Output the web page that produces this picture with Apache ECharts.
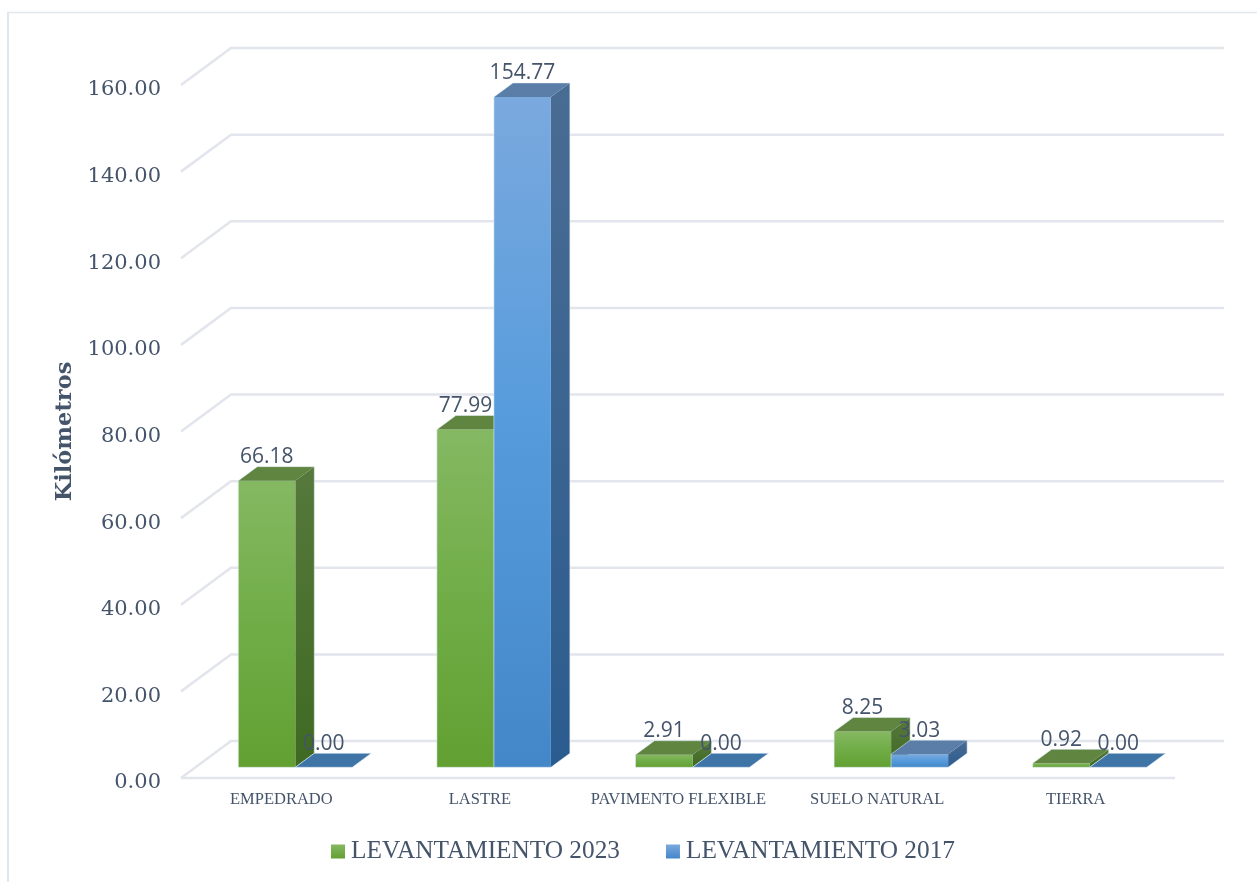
<!DOCTYPE html>
<html>
<head>
<meta charset="utf-8">
<style>html,body{margin:0;padding:0;background:#fff}#c{width:1257px;height:882px}</style>
<script src="https://cdn.jsdelivr.net/npm/echarts@6/dist/echarts.min.js"></script>
</head>
<body>
<div id="c"></div>
<script>
const categories = ['EMPEDRADO','LASTRE','PAVIMENTO FLEXIBLE','SUELO NATURAL','TIERRA'];
const levantamiento2023 = [66.18,77.99,2.91,8.25,0.92];
const levantamiento2017 = [0,154.77,0,3.03,0];
const yTicks = [0,20,40,60,80,100,120,140,160];

const TEXT = '#44546a', GRID = '#e2e5ec';
const WALL = [49,-37];           // depth of the back wall
const BARPLANE = [14,-10.7];     // plane in which bars stand
const DEPTH = [19,-14];          // bar depth
const BARW = 57;

const grad = (a,b,c) => ({type:'linear',x:0,y:0,x2:0,y2:1,colorStops:
  c ? [{offset:0,color:a},{offset:.5,color:b},{offset:1,color:c}] : [{offset:0,color:a},{offset:1,color:b}]});
const PAL = {
  green:{front:grad('#85b862','#70ad47','#62a032'),side:grad('#56783c','#3f6a22'),top:'#5f8540',flat:'#5f8540',legend:grad('#85b862','#62a032')},
  blue:{front:grad('#7aa9de','#559bdc','#4487c9'),side:grad('#4a6c93','#2b5c8f'),top:'#5a7ea8',flat:'#3f74a7',legend:grad('#7aa9de','#4487c9')}
};

function barSeries(name,values,pal,dir,layer){
  return {
    name,type:'custom',coordinateSystem:'cartesian2d',z:layer,
    itemStyle:{color:pal.legend},
    data:values.map((v,i)=>[i,v]),
    encode:{x:0,y:1},
    renderItem(params,api){
      const v = api.value(1);
      const base = api.coord([api.value(0),0]);
      const top = api.coord([api.value(0),v]);
      const xl = base[0]+BARPLANE[0]+(dir<0?-BARW:0), xr = xl+BARW;
      const yb = base[1]+BARPLANE[1], yt = top[1]+BARPLANE[1];
      const dx = DEPTH[0], dy = DEPTH[1];
      const poly = (pts,fill)=>({type:'polygon',shape:{points:pts},style:{fill}});
      const h = yb-yt;
      const children = [];
      if(h>0.5){
        children.push(poly([[xr,yb],[xr+dx,yb+dy],[xr+dx,yt+dy],[xr,yt]],pal.side));
        children.push(poly([[xl,yb],[xr,yb],[xr,yt],[xl,yt]],pal.front));
      }
      children.push(poly([[xl,yt],[xr,yt],[xr+dx,yt+dy],[xl+dx,yt+dy]],v>0?pal.top:pal.flat));
      children.push({type:'polygon',shape:{points:[[xl,yb],[xr,yb],[xr+dx,yb+dy],[xr+dx,yt+dy],[xl+dx,yt+dy],[xl,yt]]},
        style:{fill:'none',stroke:'rgba(225,238,245,0.55)',lineWidth:1}});
      return {type:'group',children};
    }
  };
}

function labelSeries(values,dir){
  return {
    type:'custom',coordinateSystem:'cartesian2d',z:6,silent:true,
    data:values.map((v,i)=>[i,v]),encode:{x:0,y:1},
    renderItem(params,api){
      const v = api.value(1);
      const top = api.coord([api.value(0),v]);
      const xc = top[0]+BARPLANE[0]+dir*BARW/2;
      return {type:'text',style:{text:v.toFixed(2),x:xc,y:top[1]+BARPLANE[1]-23.5,align:'center',verticalAlign:'middle',
        fill:TEXT,font:'21px "Open Sans"'}};
    }
  };
}

const wallSeries = {
  type:'custom',coordinateSystem:'cartesian2d',z:1,silent:true,legendHoverLink:false,
  data:yTicks.map(t=>[0,t]),encode:{x:0,y:1},
  renderItem(params,api){
    const y = api.coord([0,api.value(1)])[1];
    const r = params.coordSys;
    const x0 = r.x, x1 = r.x+r.width;
    const children = [{type:'polyline',shape:{points:[[x0-1,y],[x0+WALL[0],y+WALL[1]],[x1+WALL[0],y+WALL[1]]]},
      style:{fill:'none',stroke:GRID,lineWidth:2.5}}];
    if(api.value(1)===0) children.push({type:'line',shape:{x1:x0-1,y1:y,x2:x1,y2:y},style:{stroke:GRID,lineWidth:2.5}});
    return {type:'group',children};
  }
};

const chart = echarts.init(document.getElementById('c'),null,{renderer:'canvas'});
chart.setOption({
  animation:false,
  backgroundColor:'#fff',
  graphic:[
    {type:'line',shape:{x1:8,y1:12,x2:8,y2:882},style:{stroke:'#dfe5ec',lineWidth:2},silent:true},
    {type:'line',shape:{x1:8,y1:12.5,x2:1257,y2:12.5},style:{stroke:'#e3e8ee',lineWidth:1.5},silent:true}
  ],
  grid:{left:182,right:82,top:85,bottom:104,containLabel:false},
  legend:{
    left:326,top:834,itemGap:46,itemWidth:14,itemHeight:14,icon:'rect',
    textStyle:{color:TEXT,fontFamily:'"Liberation Serif"',fontSize:25.3,padding:[0,0,0,1]},
    data:['LEVANTAMIENTO 2023','LEVANTAMIENTO 2017']
  },
  xAxis:{type:'category',data:categories,
    axisLine:{show:false},axisTick:{show:false},
    axisLabel:{color:TEXT,fontFamily:'"Liberation Serif"',fontSize:16.5,margin:13,interval:0}},
  yAxis:{type:'value',min:0,max:160,interval:20,
    name:'Kilómetros',nameLocation:'middle',nameGap:105,nameRotate:90,
    nameTextStyle:{color:TEXT,fontFamily:'"DejaVu Serif"',fontWeight:'bold',fontSize:22.5},
    axisLine:{show:false},axisTick:{show:false},splitLine:{show:false},
    axisLabel:{color:TEXT,fontFamily:'"DejaVu Serif"',fontSize:21,margin:21,verticalAlign:'top',lineHeight:10,
      formatter:v=>v.toFixed(2)}},
  series:[
    wallSeries,
    barSeries('LEVANTAMIENTO 2023',levantamiento2023,PAL.green,-1,3),
    barSeries('LEVANTAMIENTO 2017',levantamiento2017,PAL.blue,1,4),
    labelSeries(levantamiento2023,-1),
    labelSeries(levantamiento2017,1)
  ]
});
</script>
</body>
</html>
